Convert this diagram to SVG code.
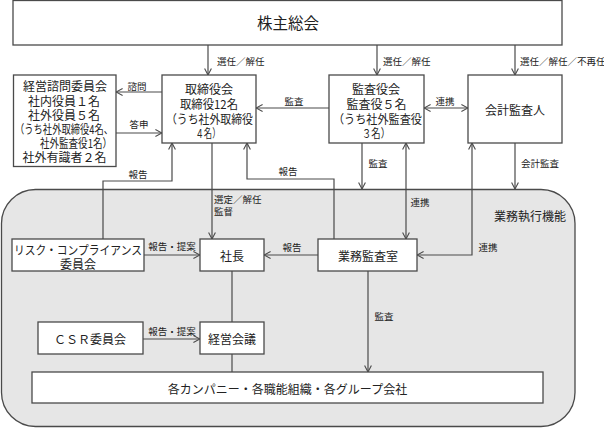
<svg xmlns="http://www.w3.org/2000/svg" width="604" height="428" viewBox="0 0 604 428">
<style>
text{font-family:"Noto Sans CJK JP","Liberation Sans",sans-serif;fill:#222;dominant-baseline:central;}
.n{font-size:12px;text-anchor:middle;}
.big{font-size:15.5px;text-anchor:middle;}
.l{font-size:9.5px;text-anchor:middle;}
.ls{font-size:9.5px;text-anchor:start;}
.box{fill:#fff;stroke:#4a4a4a;stroke-width:1.3;}
.c{fill:none;stroke:#4a4a4a;stroke-width:1.2;}
.ar{marker-end:url(#a);}
.ab{marker-end:url(#a);marker-start:url(#a);}
</style>
<defs>
<marker id="a" viewBox="0 0 8 8" refX="7.6" refY="4" markerWidth="8" markerHeight="8" markerUnits="userSpaceOnUse" orient="auto-start-reverse">
<path d="M1,0.6 L7.6,4 L1,7.4" fill="none" stroke="#4a4a4a" stroke-width="1.1"/>
</marker>
</defs>

<g id="exec-area">
<rect x="1.5" y="189.5" width="573.5" height="237" rx="34" ry="34" fill="#e6e6e6" stroke="#4a4a4a" stroke-width="1.3"/>
<text class="n" x="530" y="215">業務執行機能</text>
</g>

<g id="connectors">
<path class="c ar" d="M208,45 V75"/>
<path class="c ar" d="M377,45 V75"/>
<path class="c ar" d="M515,45 V75"/>
<path class="c ar" d="M162,92 H116"/>
<path class="c ar" d="M116,133 H162"/>
<path class="c ar" d="M329,108 H256"/>
<path class="c ab" d="M424,108 H468"/>
<path class="c ar" d="M103,239 V181 H172 V143"/>
<path class="c ar" d="M334,239 V179 H247 V143"/>
<path class="c ar" d="M212,143 V239"/>
<path class="c ar" d="M362,143 V189"/>
<path class="c ab" d="M406,143 V239"/>
<path class="c ab" d="M472,143 V255 H417"/>
<path class="c ar" d="M515,143 V189"/>
<path class="c ar" d="M144,255 H200"/>
<path class="c ar" d="M318,255 H264"/>
<path class="c" d="M232,271 V322"/>
<path class="c ar" d="M143,339 H200"/>
<path class="c" d="M232,354 V372"/>
<path class="c ar" d="M368,271 V372"/>

<text class="ls" x="217" y="61">選任／解任</text>
<text class="ls" x="383" y="61">選任／解任</text>
<text class="ls" x="520" y="61">選任／解任／不再任</text>
<text class="l" x="137" y="86">諮問</text>
<text class="l" x="139" y="123.5">答申</text>
<text class="l" x="138" y="174">報告</text>
<text class="l" x="294" y="101">監査</text>
<text class="l" x="288" y="171">報告</text>
<text class="l" x="445" y="101">連携</text>
<text class="l" x="378" y="163">監査</text>
<text class="l" x="540" y="163">会計監査</text>
<text class="l" x="420" y="202">連携</text>
<text class="l" x="488" y="247">連携</text>
<text class="ls" x="214" y="198.5">選定／解任</text>
<text class="ls" x="214" y="210.5">監督</text>
<text class="l" x="172" y="246">報告・提案</text>
<text class="l" x="292" y="247">報告</text>
<text class="l" x="172" y="331">報告・提案</text>
<text class="l" x="384" y="316">監査</text>
</g>

<g id="shareholders">
<rect class="box" x="13" y="0.5" width="549" height="44.5"/>
<text class="big" x="288" y="22">株主総会</text>
</g>

<g id="advisory">
<rect class="box" x="13.5" y="75" width="102.5" height="91.5"/>
<text class="n" x="65" y="85">経営諮問委員会</text>
<text class="n" x="64" y="100">社内役員１名</text>
<text class="n" x="64" y="114">社外役員５名</text>
<text class="n" x="64" y="128.5" textLength="98" lengthAdjust="spacingAndGlyphs">（うち社外取締役4名、</text>
<text class="n" x="76" y="142" textLength="72" lengthAdjust="spacingAndGlyphs">社外監査役1名）</text>
<text class="n" x="64.5" y="156">社外有識者２名</text>
</g>

<g id="board">
<rect class="box" x="162" y="75" width="94" height="68"/>
<text class="n" x="209" y="88">取締役会</text>
<text class="n" x="209" y="103" textLength="58" lengthAdjust="spacingAndGlyphs">取締役12名</text>
<text class="n" x="209.5" y="118" textLength="87" lengthAdjust="spacingAndGlyphs">（うち社外取締役</text>
<text class="n" x="208" y="132" textLength="25" lengthAdjust="spacingAndGlyphs">４名）</text>
</g>

<g id="auditors">
<rect class="box" x="329" y="75" width="95" height="68"/>
<text class="n" x="376" y="88">監査役会</text>
<text class="n" x="376.5" y="103">監査役５名</text>
<text class="n" x="377.5" y="118" textLength="89" lengthAdjust="spacingAndGlyphs">（うち社外監査役</text>
<text class="n" x="376" y="132" textLength="28" lengthAdjust="spacingAndGlyphs">３名）</text>
</g>

<g id="accounting-auditor">
<rect class="box" x="468" y="75" width="94" height="68"/>
<text class="n" x="515" y="109">会計監査人</text>
</g>

<g id="risk">
<rect class="box" x="12" y="239" width="132" height="32"/>
<text class="n" x="78" y="249.5" textLength="128" lengthAdjust="spacingAndGlyphs">リスク・コンプライアンス</text>
<text class="n" x="78" y="263">委員会</text>
</g>

<g id="president">
<rect class="box" x="200" y="239" width="64" height="32"/>
<text class="n" x="232" y="255">社長</text>
</g>

<g id="internal-audit">
<rect class="box" x="318" y="239" width="99" height="32"/>
<text class="n" x="368" y="255">業務監査室</text>
</g>

<g id="csr">
<rect class="box" x="38" y="322" width="105" height="32"/>
<text class="n" x="90" y="338">ＣＳＲ委員会</text>
</g>

<g id="mgmt">
<rect class="box" x="200" y="322" width="64" height="32"/>
<text class="n" x="232" y="338">経営会議</text>
</g>

<g id="companies">
<rect class="box" x="32" y="372" width="511" height="31"/>
<text class="n" x="287.5" y="388">各カンパニー・各職能組織・各グループ会社</text>
</g>
</svg>
